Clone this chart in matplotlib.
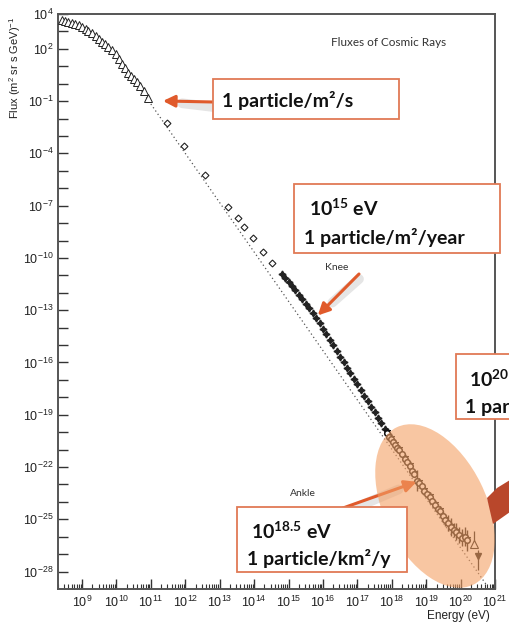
import numpy as np
import matplotlib
matplotlib.use('Agg')
import matplotlib.pyplot as plt
from matplotlib.patches import Ellipse, Rectangle, Polygon
from matplotlib.ticker import LogLocator, FixedLocator, NullFormatter

plt.rcParams['mathtext.default'] = 'regular'
plt.rcParams['font.family'] = ['Liberation Sans', 'DejaVu Sans']

# low energy direct measurements (log10 E [eV], log10 flux)
tri_logE = [8.41, 8.50, 8.60, 8.70, 8.79, 8.90, 9.01, 9.10, 9.18, 9.30, 9.40, 9.50,
            9.59, 9.68, 9.76, 9.87, 9.98, 10.06, 10.15, 10.25, 10.34, 10.42, 10.51,
            10.60, 10.68, 10.79, 10.93]
tri_logF = [3.66, 3.62, 3.56, 3.50, 3.43, 3.36, 3.27, 3.16, 3.04, 2.90, 2.74, 2.58,
            2.41, 2.27, 2.12, 1.92, 1.69, 1.40, 1.11, 0.88, 0.63, 0.46, 0.27,
            0.07, -0.13, -0.42, -0.84]

# balloon / satellite points
dia_logE = [11.46, 11.97, 12.57, 13.25, 13.54, 13.72, 13.98, 14.27, 14.51]
dia_logF = [-2.24, -3.58, -5.24, -7.06, -7.73, -8.24, -8.84, -9.64, -10.28]

# air shower arrays around the knee
knee_logE = [14.8, 14.9, 15.0, 15.1, 15.2, 15.3, 15.4, 15.5, 15.6, 15.7, 15.8,
             15.9, 16.0, 16.1, 16.2, 16.3, 16.4, 16.5, 16.6, 16.7, 16.8, 16.9,
             17.0, 17.1, 17.2, 17.3, 17.4, 17.5, 17.6, 17.7, 17.8, 17.9, 18.0]
knee_logF = [-10.92, -11.16, -11.39, -11.62, -11.86, -12.12, -12.38, -12.64, -12.90,
             -13.18, -13.46, -13.76, -14.06, -14.38, -14.70, -15.02, -15.34, -15.66,
             -15.98, -16.30, -16.62, -16.94, -17.26, -17.58, -17.90, -18.22, -18.54,
             -18.86, -19.18, -19.50, -19.82, -20.12, -20.42]

# ultra high energy points with errors (decades)
uhe_logE = [17.85, 17.92, 17.98, 18.05, 18.10, 18.16, 18.22, 18.30, 18.38, 18.45,
            18.52, 18.58, 18.65, 18.72, 18.80, 18.88, 18.95, 19.02, 19.10, 19.18,
            19.25, 19.33, 19.40, 19.48, 19.56, 19.64, 19.72, 19.80, 19.88, 19.96,
            20.05, 20.12, 20.20]
uhe_logF = [-20.07, -20.25, -20.40, -20.58, -20.72, -20.88, -21.04, -21.28, -21.52,
            -21.72, -21.96, -22.20, -22.40, -22.78, -22.92, -23.10, -23.35, -23.55,
            -23.72, -23.95, -24.20, -24.40, -24.55, -24.80, -25.02, -25.20, -25.45,
            -25.60, -25.70, -25.90, -26.05, -26.00, -26.20]
uhe_err = [0.05, 0.05, 0.06, 0.06, 0.06, 0.07, 0.07, 0.08, 0.08, 0.09,
           0.10, 0.12, 0.15, 0.60, 0.15, 0.15, 0.15, 0.18, 0.20, 0.20,
           0.25, 0.25, 0.30, 0.30, 0.35, 0.45, 0.50, 0.40, 0.50, 0.45,
           0.50, 0.55, 0.60]

# highest energy events
top_logE = [20.38, 20.50]
top_logF = [-26.40, -27.11]
top_err_lo = [0.0, 0.80]
top_err_hi = [0.75, 0.37]

# E^-2.8 reference line
fit_logE = [10.0, 20.75]
fit_logF = [1.66, -28.76]

xtick_exp = list(range(9, 22))
ytick_exp = [4, 2, -1, -4, -7, -10, -13, -16, -19, -22, -25, -28]

W, H = 510, 622


def fx(px):
    return px / W


def fy(py):
    return 1 - py / H


fig = plt.figure(figsize=(W / 100, H / 100), dpi=100)
ax = fig.add_axes([fx(58), fy(589), fx(495) - fx(58), fy(14) - fy(589)])
ax.set_xscale('log')
ax.set_yscale('log')

p = lambda v: 10.0 ** np.asarray(v)

ax.plot(p(fit_logE), p(fit_logF), color='#555555', lw=0.9, ls=(0, (1, 2.2)), zorder=1)
ax.plot(p(tri_logE), p(tri_logF), ls='none', marker='^', ms=6, mfc='white',
        mec='#222222', mew=0.7, zorder=3)
ax.plot(p(dia_logE), p(dia_logF), ls='none', marker='D', ms=3.5, mfc='white',
        mec='#222222', mew=0.8, zorder=3)
ax.plot(p(knee_logE), p(knee_logF), ls='none', marker=(4, 1, 0), ms=5,
        color='#222222', zorder=3)

F = p(uhe_logF)
err = np.asarray(uhe_err)
ax.errorbar(p(uhe_logE), F, yerr=[F - F * 10 ** -err, F * 10 ** err - F], ls='none',
            marker='o', ms=4, mfc='white', mec='#111111', mew=1.1, ecolor='#111111',
            elinewidth=1.0, zorder=3)
ax.plot(p(uhe_logE[::2]), p(uhe_logF[::2]) * 1.3, ls='none', marker='*', ms=5,
        mfc='white', mec='#111111', mew=0.8, zorder=3)
Ft = p(top_logF)
ax.errorbar(p(top_logE[:1]), Ft[:1],
            yerr=[[0.0], [Ft[0] * 10 ** top_err_hi[0] - Ft[0]]],
            ls='none', marker='^', ms=6, mfc='white', mec='#111111', mew=0.8,
            ecolor='#111111', elinewidth=0.9, zorder=3)
ax.errorbar(p(top_logE[1:]), Ft[1:],
            yerr=[[Ft[1] - Ft[1] * 10 ** -top_err_lo[1]], [Ft[1] * 10 ** top_err_hi[1] - Ft[1]]],
            ls='none', marker='v', ms=5, color='#111111', elinewidth=0.9, zorder=3)

ax.set_xlim(10 ** 8.3, 1e21)
ax.set_ylim(1e-29, 1e4)

ax.xaxis.set_major_locator(FixedLocator([10.0 ** e for e in xtick_exp]))
ax.set_xticklabels(['$10^{%d}$' % e for e in xtick_exp])
ax.xaxis.set_minor_locator(LogLocator(base=10, subs=np.arange(2, 10), numticks=40))
ax.xaxis.set_minor_formatter(NullFormatter())

ax.yaxis.set_major_locator(FixedLocator([10.0 ** e for e in range(-28, 5)]))
ax.set_yticklabels(['$10^{%d}$' % e if e in ytick_exp else '' for e in range(-28, 5)])
ax.yaxis.set_minor_locator(FixedLocator([]))

ax.tick_params(axis='both', which='major', direction='in', length=7, width=1.0,
               color='#333333', labelsize=9, labelcolor='#222222')
ax.tick_params(axis='x', which='minor', direction='in', length=3.5, width=0.8,
               color='#333333')
ax.tick_params(axis='x', which='major', pad=4)
ax.tick_params(axis='y', which='major', pad=3)
for s in ax.spines.values():
    s.set_color('#555555')
    s.set_linewidth(1.4)

# orange highlight over the ultra high energy region
ell = Ellipse((435, H - 506), 175, 102, angle=-64, facecolor='#f4a064', alpha=0.6,
              edgecolor='none', transform=None, zorder=4)
fig.add_artist(ell)

fig.text(fx(389), fy(42), 'Fluxes of Cosmic Rays', family=['Lato', 'DejaVu Sans'],
         fontsize=8.5, color='#333333', ha='center', va='center')
fig.text(fx(15), fy(68), 'Flux (m$^{2}$ sr s GeV)$^{-1}$', rotation=90,
         fontsize=8, color='#222222', ha='center', va='center')
fig.text(fx(490), fy(616), 'Energy (eV)', fontsize=8.5, color='#222222',
         ha='right', va='center')
fig.text(fx(337), fy(267), 'Knee', family=['Lato', 'DejaVu Sans'], fontsize=7.5,
         color='#333333', ha='center', va='center')
fig.text(fx(303), fy(494), 'Ankle', family=['Lato', 'DejaVu Sans'], fontsize=7.5,
         color='#333333', ha='center', va='center')

ORANGE = '#e05a2b'


def arrow(tail, tip_data, shadow=True):
    if shadow:
        ax.annotate('', xy=tip_data, xycoords='data',
                    xytext=(fx(tail[0]), fy(tail[1] + 5)), textcoords='figure fraction',
                    arrowprops=dict(arrowstyle='-', lw=7, color='#999999', alpha=0.25,
                                    shrinkA=0, shrinkB=14), zorder=5)
    ax.annotate('', xy=tip_data, xycoords='data',
                xytext=(fx(tail[0]), fy(tail[1])), textcoords='figure fraction',
                arrowprops=dict(arrowstyle='-|>,head_length=0.7,head_width=0.35',
                                lw=2.2, color=ORANGE, shrinkA=0, shrinkB=0), zorder=6)


arrow((213, 102), (10 ** 11.35, 10 ** -0.99))
arrow((359, 274), (10 ** 15.85, 10 ** -13.3))
arrow((343, 508), (10 ** 18.72, 10 ** -22.85))


def box(x0, y0, x1, y1):
    r = Rectangle((fx(x0), fy(y1)), fx(x1) - fx(x0), fy(y0) - fy(y1),
                  transform=fig.transFigure, facecolor='white', edgecolor='#e07a55',
                  lw=1.3, zorder=7)
    fig.add_artist(r)


bold = dict(family=['Lato', 'DejaVu Sans'], fontweight='bold', color='#111111',
            va='center', ha='left', zorder=8)

box(213, 79, 399, 119)
fig.text(fx(222), fy(101), '1 particle/m²/s', fontsize=14, **bold)

box(294, 184, 500, 253)
fig.text(fx(309), fy(208), '10$^{15}$ eV', fontsize=14, **bold)
fig.text(fx(304), fy(238), '1 particle/m²/year', fontsize=14, **bold)

# right hand box runs past the edge of the figure
box(456, 354, 540, 419)
fig.text(fx(469), fy(379), '10$^{20}$ eV', fontsize=14, **bold)
fig.text(fx(465), fy(406), '1 particle/km²/century', fontsize=14, **bold)

box(237, 507, 407, 572)
fig.text(fx(251), fy(531), '10$^{18.5}$ eV', fontsize=14, **bold)
fig.text(fx(247), fy(558), '1 particle/km²/y', fontsize=14, **bold)

# callout wedge from the right hand box
wedge = Polygon([(fx(510), fy(480)), (fx(497), fy(488)), (fx(487), fy(498)),
                 (fx(493), fy(524)), (fx(510), fy(512))], closed=True,
                transform=fig.transFigure, facecolor='#b9472b', edgecolor='none',
                zorder=6)
fig.add_artist(wedge)

fig.savefig('out.png', dpi=100)
